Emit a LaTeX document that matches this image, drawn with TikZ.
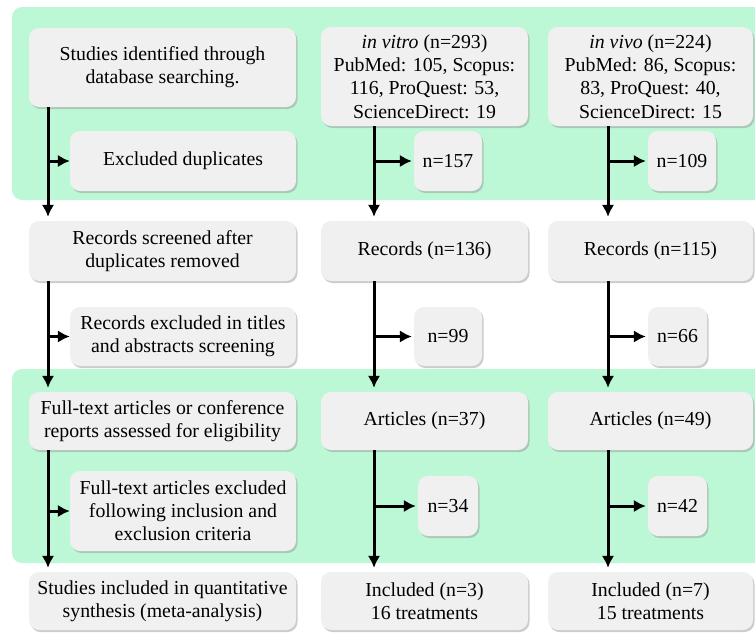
\documentclass[tikz,border=0pt]{standalone}
\usepackage{fontspec}
\setmainfont{Liberation Serif}
\usetikzlibrary{arrows.meta,shadows}
\definecolor{bandgreen}{RGB}{189,248,214}
\definecolor{boxgray}{RGB}{240,240,240}
\tikzset{
  box/.style={fill=boxgray, rounded corners=10pt, align=center, inner sep=2pt,
    font=\fontsize{19.8}{23.2}\selectfont,
    drop shadow={shadow xshift=1.5pt, shadow yshift=-2pt, fill=black!40}},
  flow/.style={line width=3pt, ->}
}
\begin{document}
\begin{tikzpicture}[x=1pt, y=-1pt, >={Latex[length=12pt,width=12.5pt]}]
\useasboundingbox (0,0) rectangle (755,632);
% green bands
\fill[bandgreen, rounded corners=10pt] (12,7) rectangle (775,200);
\fill[bandgreen, rounded corners=10pt] (12,369) rectangle (775,563);
% left column
\node[box, minimum width=267pt, minimum height=79pt] (id1) at (162.5,67.5) {Studies identified through\\database searching.};
\node[box, minimum width=226pt, minimum height=60pt] (dup) at (183,161) {Excluded duplicates};
\node[box, minimum width=267pt, minimum height=60pt] (scr1) at (162.5,251) {Records screened after\\duplicates removed};
\node[box, minimum width=226pt, minimum height=59pt] (exc1) at (183,336.5) {Records excluded in titles\\and abstracts screening};
\node[box, minimum width=267pt, minimum height=58pt] (full1) at (162.5,421) {Full-text articles or conference\\reports assessed for eligibility};
\node[box, minimum width=226pt, minimum height=80pt] (fexc1) at (183,511) {Full-text articles excluded\\following inclusion and\\exclusion criteria};
\node[box, minimum width=267pt, minimum height=58pt] (inc1) at (162.5,601) {Studies included in quantitative\\synthesis (meta-analysis)};
% in vitro column
\node[box, minimum width=207pt, minimum height=99pt] (id2) at (424.5,76.5) {\textit{in vitro} (n=293)\\PubMed: 105, Scopus:\\116, ProQuest: 53,\\ScienceDirect: 19};
\node[box, minimum width=68pt, minimum height=60pt] (n157) at (448,161) {n=157};
\node[box, minimum width=207pt, minimum height=60pt] (rec2) at (424.5,251) {Records (n=136)};
\node[box, minimum width=68pt, minimum height=59pt] (n99) at (448,336.5) {n=99};
\node[box, minimum width=207pt, minimum height=58pt] (art2) at (424.5,421) {Articles (n=37)};
\node[box, minimum width=60pt, minimum height=60pt] (n34) at (448,506) {n=34};
\node[box, minimum width=207pt, minimum height=58pt] (inc2) at (424.5,601) {Included (n=3)\\16 treatments};
% in vivo column
\node[box, minimum width=205pt, minimum height=99pt] (id3) at (650.5,76.5) {\textit{in vivo} (n=224)\\PubMed: 86, Scopus:\\83, ProQuest: 40,\\ScienceDirect: 15};
\node[box, minimum width=68pt, minimum height=60pt] (n109) at (682,161) {n=109};
\node[box, minimum width=205pt, minimum height=60pt] (rec3) at (650.5,251) {Records (n=115)};
\node[box, minimum width=59pt, minimum height=59pt] (n66) at (677.5,336.5) {n=66};
\node[box, minimum width=205pt, minimum height=58pt] (art3) at (650.5,421) {Articles (n=49)};
\node[box, minimum width=59pt, minimum height=60pt] (n42) at (677.5,506) {n=42};
\node[box, minimum width=205pt, minimum height=58pt] (inc3) at (650.5,601) {Included (n=7)\\15 treatments};
% arrow lines
\coordinate (c1) at (48,0);
\coordinate (c2) at (374,0);
\coordinate (c3) at (608,0);
\draw[flow, shorten >=4pt] (id1.south -| c1)--(scr1.north -| c1);
\draw[flow, shorten >=4pt] (scr1.south -| c1)--(full1.north -| c1);
\draw[flow, shorten >=4pt] (full1.south -| c1)--(inc1.north -| c1);
\draw[flow, shorten >=4pt] (id2.south -| c2)--(rec2.north -| c2);
\draw[flow, shorten >=4pt] (rec2.south -| c2)--(art2.north -| c2);
\draw[flow, shorten >=4pt] (art2.south -| c2)--(inc2.north -| c2);
\draw[flow, shorten >=4pt] (id3.south -| c3)--(rec3.north -| c3);
\draw[flow, shorten >=4pt] (rec3.south -| c3)--(art3.north -| c3);
\draw[flow, shorten >=4pt] (art3.south -| c3)--(inc3.north -| c3);
\draw[flow] (dup.west -| c1)--(dup.west);
\draw[flow] (exc1.west -| c1)--(exc1.west);
\draw[flow] (fexc1.west -| c1)--(fexc1.west);
\draw[flow, shorten >=2pt] (n157.west -| c2)--(n157.west);
\draw[flow, shorten >=2pt] (n99.west -| c2)--(n99.west);
\draw[flow, shorten >=2pt] (n34.west -| c2)--(n34.west);
\draw[flow, shorten >=2pt] (n109.west -| c3)--(n109.west);
\draw[flow, shorten >=2pt] (n66.west -| c3)--(n66.west);
\draw[flow, shorten >=2pt] (n42.west -| c3)--(n42.west);
\end{tikzpicture}
\end{document}
